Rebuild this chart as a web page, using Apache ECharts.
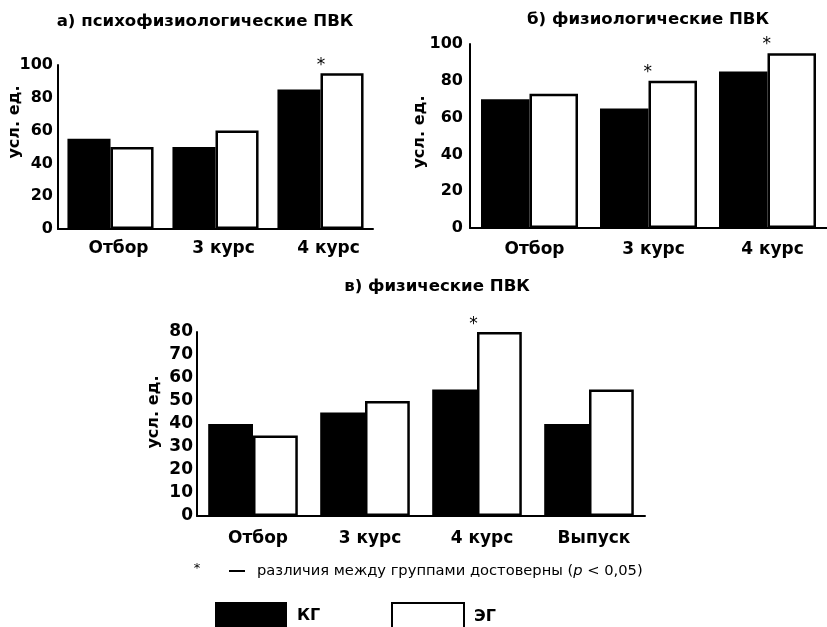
<!DOCTYPE html>
<html>
<head>
<meta charset="utf-8">
<script src="https://cdn.jsdelivr.net/npm/echarts@6/dist/echarts.min.js"></script>
<style>
  html, body { margin: 0; padding: 0; background: #fff; }
  #chart { width: 827px; height: 627px; }
</style>
</head>
<body>
<div id="chart"></div>
<script>
// Panel а: psychophysiological ПВК
const categoriesA = ['Отбор', '3 курс', '4 курс'];
const kgA = [55, 50, 85];
const egA = [50, 60, 95];
const sigA = [false, false, true];

// Panel б: physiological ПВК
const categoriesB = ['Отбор', '3 курс', '4 курс'];
const kgB = [70, 65, 85];
const egB = [73, 80, 95];
const sigB = [false, true, true];

// Panel в: physical ПВК
const categoriesC = ['Отбор', '3 курс', '4 курс', 'Выпуск'];
const kgC = [40, 45, 55, 40];
const egC = [35, 50, 80, 55];
const sigC = [false, false, true, false];

// Axis ranges
const yRangeAB = { min: 0, max: 100, interval: 20 };
const yRangeC = { min: 0, max: 80, interval: 10 };

const seriesNames = ['КГ', 'ЭГ'];

const FONT = 'DejaVu Sans';
const BOLD = { fontFamily: FONT, fontWeight: 'bold', color: '#000' };

function xAxisFor(gridIndex, cats, margin, shift) {
  return {
    type: 'category', gridIndex, data: cats,
    axisLine: { lineStyle: { color: '#000', width: 2 } },
    axisTick: { show: false },
    axisLabel: Object.assign({ fontSize: 17, margin, padding: [0, 0, 0, shift] }, BOLD)
  };
}
function yAxisFor(gridIndex, range, margin, fs) {
  return {
    type: 'value', gridIndex, min: range.min, max: range.max, interval: range.interval,
    axisLine: { show: true, lineStyle: { color: '#000', width: 2 } },
    axisTick: { show: false },
    splitLine: { show: false },
    axisLabel: Object.assign({ fontSize: fs, margin }, BOLD)
  };
}
function barPair(idx, kg, eg, sig, catGap, starOffset) {
  return [
    {
      type: 'bar', name: seriesNames[0], xAxisIndex: idx, yAxisIndex: idx,
      data: kg, barGap: '0%', barCategoryGap: catGap,
      itemStyle: { color: '#000' }
    },
    {
      type: 'bar', name: seriesNames[1], xAxisIndex: idx, yAxisIndex: idx,
      data: eg.map((v, i) => ({ value: v, label: { show: sig[i] } })),
      barGap: '0%', barCategoryGap: catGap,
      itemStyle: { color: '#fff', borderColor: '#000', borderWidth: 2.5 },
      label: {
        show: false, position: 'top', formatter: '*', distance: 0,
        offset: starOffset, fontFamily: FONT, fontSize: 17, color: '#000'
      }
    }
  ];
}

const legendText = Object.assign({ fontSize: 16, padding: [0, 0, 0, 5] }, BOLD);

const chart = echarts.init(document.getElementById('chart'));
chart.setOption({
  backgroundColor: '#fff',
  animation: false,
  grid: [
    { left: 58, width: 315, top: 65, height: 164 },
    { left: 470, width: 357, top: 44, height: 184 },
    { left: 197, width: 448, top: 332, height: 184 }
  ],
  xAxis: [
    xAxisFor(0, categoriesA, 11, 16),
    xAxisFor(1, categoriesB, 13, 10),
    xAxisFor(2, categoriesC, 14, 10)
  ],
  yAxis: [
    yAxisFor(0, yRangeAB, 5, 16),
    yAxisFor(1, yRangeAB, 7, 16),
    yAxisFor(2, yRangeC, 4, 17)
  ],
  legend: [
    {
      left: 215, top: 602, padding: 0, data: [seriesNames[0]], icon: 'rect',
      itemWidth: 72, itemHeight: 28, selectedMode: false, textStyle: legendText
    },
    {
      left: 391, top: 602, padding: 0, data: [seriesNames[1]], icon: 'rect',
      itemWidth: 72, itemHeight: 28, selectedMode: false, textStyle: legendText
    }
  ],
  series: [
    ...barPair(0, kgA, egA, sigA, '18%', [-21, 1]),
    ...barPair(1, kgB, egB, sigB, '18.5%', [-25, 0]),
    ...barPair(2, kgC, egC, sigC, '20%', [-26, 1])
  ],
  graphic: [
    // panel titles
    { type: 'text', x: 205, y: 22, style: { text: 'а) психофизиологические ПВК', font: 'bold 16.6px "DejaVu Sans"', fill: '#000', align: 'center', verticalAlign: 'middle' } },
    { type: 'text', x: 648, y: 20, style: { text: 'б) физиологические ПВК', font: 'bold 16.6px "DejaVu Sans"', fill: '#000', align: 'center', verticalAlign: 'middle' } },
    { type: 'text', x: 437, y: 287, style: { text: 'в) физические ПВК', font: 'bold 16.6px "DejaVu Sans"', fill: '#000', align: 'center', verticalAlign: 'middle' } },
    // vertical axis names
    { type: 'text', x: 15, y: 122, rotation: Math.PI / 2, style: { text: 'усл. ед.', font: 'bold 16px "DejaVu Sans"', fill: '#000', align: 'center', verticalAlign: 'middle' } },
    { type: 'text', x: 420, y: 132, rotation: Math.PI / 2, style: { text: 'усл. ед.', font: 'bold 16px "DejaVu Sans"', fill: '#000', align: 'center', verticalAlign: 'middle' } },
    { type: 'text', x: 154, y: 412, rotation: Math.PI / 2, style: { text: 'усл. ед.', font: 'bold 16px "DejaVu Sans"', fill: '#000', align: 'center', verticalAlign: 'middle' } },
    // significance footnote
    { type: 'text', x: 197, y: 569, style: { text: '*', font: '13px "DejaVu Sans"', fill: '#000', align: 'center', verticalAlign: 'middle' } },
    { type: 'rect', shape: { x: 229, y: 570, width: 16, height: 2 }, style: { fill: '#000' } },
    {
      type: 'text', x: 257, y: 571,
      style: {
        text: '{n|различия между группами достоверны (}{i|p}{n| < 0,05)}',
        align: 'left', verticalAlign: 'middle',
        rich: {
          n: { fontFamily: FONT, fontSize: 14.7, fill: '#000' },
          i: { fontFamily: FONT, fontSize: 14.7, fontStyle: 'italic', fill: '#000' }
        }
      }
    }
  ]
});
</script>
</body>
</html>
